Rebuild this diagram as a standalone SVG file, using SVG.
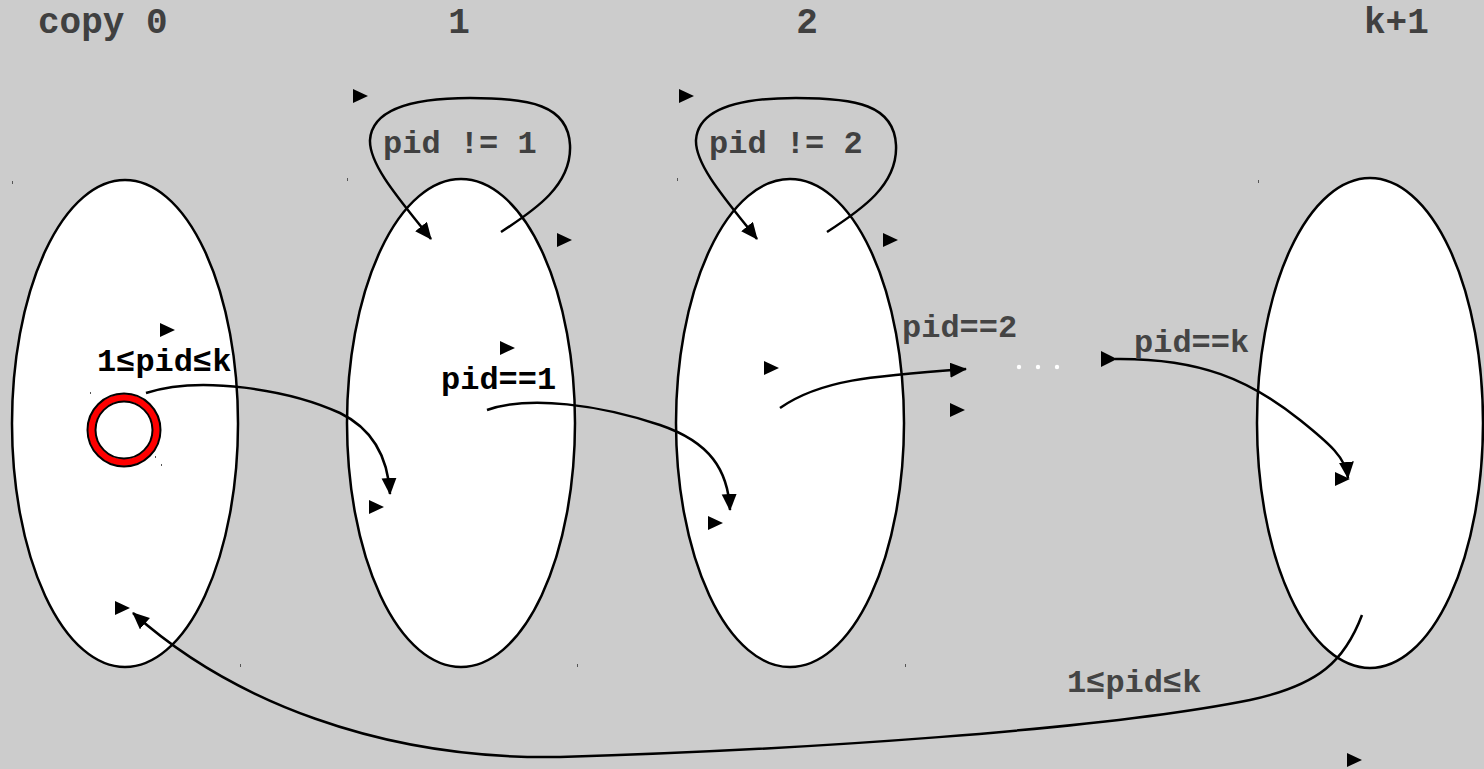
<svg xmlns="http://www.w3.org/2000/svg" width="1484" height="769" viewBox="0 0 1484 769">
<style>
.bg{fill:#cccccc}
.state{fill:#ffffff;stroke:#000;stroke-width:2.5}
.t{font-family:"Liberation Mono","DejaVu Sans Mono",monospace;font-weight:bold;font-size:36px;fill:#404040}
.lbl{font-family:"Liberation Mono","DejaVu Sans Mono",monospace;font-weight:bold;font-size:32px}
.edge{fill:none;stroke:#000;stroke-width:2.5;marker-end:url(#ah)}
.tri{fill:#000}
.tick{fill:#555}
</style>
<defs>
<marker id="ah" markerUnits="userSpaceOnUse" markerWidth="18" markerHeight="16" refX="16" refY="7.5" orient="auto">
<path d="M0,0 L17,7.5 L0,15 z" fill="#000"/>
</marker>
<path id="stray" d="M0,0 L15,7 L0,14 z"/>
</defs>
<rect class="bg" x="0" y="0" width="1484" height="769"/>

<g id="headers">
<text class="t" x="38" y="33">copy 0</text>
<text class="t" x="459" y="33" text-anchor="middle">1</text>
<text class="t" x="807" y="33" text-anchor="middle">2</text>
<text class="t" x="1364" y="33">k+1</text>
</g>

<g id="node-copy0">
<ellipse class="state" cx="125" cy="423.5" rx="113" ry="243.5"/>
<circle cx="124" cy="430" r="32.5" fill="none" stroke="#ff0000" stroke-width="7"/>
<circle cx="124" cy="430" r="36.5" fill="none" stroke="#000" stroke-width="2"/>
<circle cx="124" cy="430" r="28.5" fill="#fff" stroke="#000" stroke-width="2"/>
</g>
<g id="node-copy1">
<ellipse class="state" cx="461" cy="423" rx="114" ry="244"/>
</g>
<g id="node-copy2">
<ellipse class="state" cx="790" cy="423" rx="114" ry="244"/>
</g>
<g id="node-copyk1">
<ellipse class="state" cx="1370" cy="423" rx="113" ry="245"/>
</g>

<g id="dots" fill="#ffffff">
<circle cx="1019" cy="367" r="2.2"/>
<circle cx="1038" cy="367" r="2.2"/>
<circle cx="1057" cy="367" r="2.2"/>
</g>

<g id="connectors">
<path class="edge" d="M501,232 C535,210 572,185 570,145 C568,105 530,98 470,98 C410,98 372,110 370,140 C369,165 400,200 431,239"/>
<path class="edge" d="M827,232 C861,210 898,185 896,145 C894,105 856,98 796,98 C736,98 698,110 696,140 C695,165 726,200 757,239"/>
<path class="edge" d="M146,393 C200,375 290,390 340,413 C375,430 388,460 390,494"/>
<path class="edge" d="M487,410 C530,395 600,405 660,425 C710,442 728,470 730,510"/>
<path class="edge" d="M780,408 C820,380 870,376 966,369"/>
<path class="edge" d="M1115,359 C1200,358 1250,380 1300,420 C1330,444 1346,458 1348,478"/>
<path class="edge" d="M1362,615 C1345,660 1320,685 1250,700 C1100,730 800,750 560,757 C380,760 230,700 133,613"/>
<path class="tri" d="M1101,351 L1117,359 L1101,367 z"/>
</g>

<g id="labels">
<text class="lbl" x="383" y="153" fill="#404040">pid != 1</text>
<text class="lbl" x="709" y="153" fill="#404040">pid != 2</text>
<text class="lbl" x="97" y="371" fill="#000">1≤pid≤k</text>
<text class="lbl" x="441" y="389" fill="#000">pid==1</text>
<text class="lbl" x="902" y="337" fill="#444">pid==2</text>
<text class="lbl" x="1134" y="352" fill="#444">pid==k</text>
<text class="lbl" x="1067" y="692" fill="#444">1≤pid≤k</text>
</g>

<g id="stray-marks" class="tri">
<use href="#stray" x="353" y="89"/>
<use href="#stray" x="679" y="89"/>
<use href="#stray" x="557" y="233"/>
<use href="#stray" x="883" y="233"/>
<use href="#stray" x="160" y="323"/>
<use href="#stray" x="500" y="341"/>
<use href="#stray" x="764" y="361"/>
<use href="#stray" x="950" y="403"/>
<use href="#stray" x="369" y="500"/>
<use href="#stray" x="708" y="516"/>
<use href="#stray" x="1335" y="472"/>
<use href="#stray" x="115" y="601"/>
<use href="#stray" x="1347" y="753"/>
</g>

<g id="ticks" class="tick">
<rect x="12" y="181" width="1" height="3"/>
<rect x="347" y="178" width="1" height="3"/>
<rect x="677" y="178" width="1" height="3"/>
<rect x="1258" y="180" width="1" height="3"/>
<rect x="240" y="664" width="1" height="3"/>
<rect x="577" y="664" width="1" height="3"/>
<rect x="905" y="664" width="1" height="3"/>
<rect x="90" y="392" width="1" height="2"/>
<rect x="155" y="456" width="1" height="2"/>
<rect x="161" y="464" width="1" height="2"/>
</g>
</svg>
